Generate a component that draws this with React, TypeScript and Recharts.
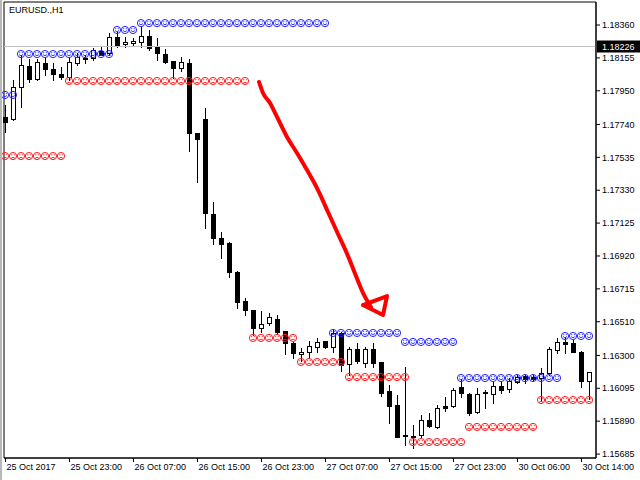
import { ComposedChart, Bar, Line, Scatter, XAxis, YAxis, ReferenceLine, ReferenceArea } from 'recharts';

const symbolTitle = 'EURUSD.,H1';

// one label every 8 hourly bars
const timeLabels = [
  '25 Oct 2017', '25 Oct 23:00', '26 Oct 07:00', '26 Oct 15:00', '26 Oct 23:00',
  '27 Oct 07:00', '27 Oct 15:00', '27 Oct 23:00', '30 Oct 06:00', '30 Oct 14:00',
];

const open = [
  1.17787, 1.17774, 1.17974, 1.18104, 1.18023, 1.18123, 1.18086, 1.18055, 1.18036, 1.18123,
  1.18154, 1.18154, 1.18198, 1.18185, 1.18285, 1.18242, 1.18248, 1.18254, 1.18291, 1.18229,
  1.18179, 1.18136, 1.18092, 1.18123, 1.17687, 1.17774, 1.17182, 1.17032, 1.17001, 1.16820,
  1.16639, 1.16583, 1.16471, 1.16502, 1.16527, 1.16452, 1.16377, 1.16309, 1.16321, 1.16352,
  1.16390, 1.16352, 1.16440, 1.16246, 1.16340, 1.16253, 1.16340, 1.16259, 1.16078, 1.15991,
  1.15804, 1.15798, 1.15804, 1.15897, 1.15854, 1.15985, 1.15985, 1.16103, 1.16059, 1.15947,
  1.16066, 1.16059, 1.16109, 1.16091, 1.16134, 1.16172, 1.16165, 1.16159, 1.16190, 1.16334,
  1.16384, 1.16377, 1.16321, 1.16140,
];
const high = [
  1.17861, 1.18017, 1.18173, 1.18148, 1.18148, 1.18160, 1.18123, 1.18098, 1.18160, 1.18185,
  1.18173, 1.18217, 1.18223, 1.18310, 1.18316, 1.18285, 1.18279, 1.18354, 1.18329, 1.18279,
  1.18210, 1.18136, 1.18160, 1.18148, 1.17687, 1.17843, 1.17257, 1.17070, 1.17007, 1.16826,
  1.16658, 1.16583, 1.16577, 1.16564, 1.16552, 1.16452, 1.16384, 1.16346, 1.16390, 1.16409,
  1.16390, 1.16465, 1.16446, 1.16352, 1.16377, 1.16352, 1.16377, 1.16259, 1.16116, 1.16053,
  1.16228, 1.15866, 1.15929, 1.15941, 1.15991, 1.16041, 1.16097, 1.16153, 1.16066, 1.16097,
  1.16084, 1.16134, 1.16134, 1.16159, 1.16178, 1.16178, 1.16178, 1.16222, 1.16352, 1.16409,
  1.16415, 1.16396, 1.16327, 1.16197,
];
const low = [
  1.17693, 1.17768, 1.17849, 1.18005, 1.18017, 1.18048, 1.18017, 1.18023, 1.18017, 1.18111,
  1.18123, 1.18142, 1.18173, 1.18173, 1.18223, 1.18223, 1.18229, 1.18223, 1.18204, 1.18142,
  1.18123, 1.18030, 1.18073, 1.17575, 1.17381, 1.17094, 1.16995, 1.16907, 1.16789, 1.16596,
  1.16552, 1.16427, 1.16446, 1.16490, 1.16440, 1.16309, 1.16284, 1.16265, 1.16290, 1.16321,
  1.16346, 1.16321, 1.16203, 1.16178, 1.16253, 1.16228, 1.16228, 1.16047, 1.15879, 1.15791,
  1.15741, 1.15723, 1.15791, 1.15854, 1.15847, 1.15953, 1.15978, 1.16041, 1.15929, 1.15941,
  1.15972, 1.16003, 1.16066, 1.16072, 1.16128, 1.16128, 1.16147, 1.16022, 1.16178, 1.16315,
  1.16315, 1.16321, 1.16103, 1.16028,
];
const close = [
  1.17755, 1.17974, 1.18111, 1.18023, 1.18129, 1.18086, 1.18055, 1.18036, 1.18129, 1.18160,
  1.18148, 1.18204, 1.18173, 1.18285, 1.18235, 1.18254, 1.18260, 1.18291, 1.18217, 1.18185,
  1.18129, 1.18092, 1.18129, 1.17687, 1.17649, 1.17188, 1.17032, 1.16995, 1.16820, 1.16633,
  1.16583, 1.16471, 1.16496, 1.16540, 1.16446, 1.16377, 1.16315, 1.16321, 1.16359, 1.16384,
  1.16352, 1.16440, 1.16240, 1.16340, 1.16265, 1.16340, 1.16253, 1.16066, 1.15985, 1.15791,
  1.15798, 1.15791, 1.15897, 1.15860, 1.15972, 1.15972, 1.16084, 1.16066, 1.15941, 1.16059,
  1.16072, 1.16109, 1.16084, 1.16140, 1.16165, 1.16153, 1.16153, 1.16190, 1.16340, 1.16384,
  1.16371, 1.16321, 1.16140, 1.16197,
];

const bidPrice = 1.18226;
const priceTicks = [
  1.18360, 1.18155, 1.17950, 1.17740, 1.17535, 1.17330, 1.17125,
  1.16920, 1.16715, 1.16510, 1.16300, 1.16095, 1.15890, 1.15685,
];
const priceDomain = [1.156604, 1.185035];
const barDomain = [-0.125, 73.875];

// smiley (resistance) and frowny (support) runs: first bar, last bar, price
const resistanceFrom = [0, 2, 14, 17, 41, 50, 57, 70];
const resistanceTo = [1, 13, 16, 40, 49, 56, 69, 73];
const resistanceLevel = [1.17924, 1.18179, 1.18329, 1.18372, 1.16440, 1.16384, 1.16159, 1.16421];
const supportFrom = [0, 8, 31, 37, 43, 51, 58, 67];
const supportTo = [7, 30, 36, 42, 50, 57, 66, 73];
const supportLevel = [1.17543, 1.18011, 1.16409, 1.16259, 1.16165, 1.15760, 1.15854, 1.16022];

// hand drawn red arrow
const arrowBar = [31.75, 32.25, 33.125, 34.0, 35.25, 36.5, 37.75, 39.125, 40.375, 41.625, 42.875, 43.875, 44.875, 45.75];
const arrowPrice = [1.18005, 1.17936, 1.17874, 1.17787, 1.17662, 1.17562, 1.17456, 1.17331, 1.17194, 1.17057, 1.16920, 1.16795, 1.16677, 1.16602];
const arrowHeadBar = [44.75, 47.75, 47.25, 44.75];
const arrowHeadPrice = [1.16614, 1.16670, 1.16552, 1.16614];

const levelAt = (from: number[], to: number[], level: number[], i: number) => {
  for (let k = 0; k < from.length; k++) {
    if (i >= from[k] && i <= to[k]) return level[k];
  }
  return null;
};

const rows = open.map((o, i) => ({
  i,
  open: o,
  high: high[i],
  low: low[i],
  close: close[i],
  range: [low[i], high[i]],
  res: levelAt(resistanceFrom, resistanceTo, resistanceLevel, i),
  sup: levelAt(supportFrom, supportTo, supportLevel, i),
}));

const arrowPts = arrowBar.map((b, k) => ({ i: b, p: arrowPrice[k] }));
const arrowHeadPts = arrowHeadBar.map((b, k) => ({ i: b, p: arrowHeadPrice[k] }));

const FONT = 'Liberation Sans, Arial, sans-serif';

const Candle = (props: any) => {
  const { x, y, width, height, payload } = props;
  if (x == null || y == null) return <g />;
  const top = Math.min(y, y + height);
  const h = Math.abs(height);
  const span = payload.high - payload.low || 1;
  const toY = (p: number) => top + ((payload.high - p) / span) * h;
  const cx = Math.round(x + width / 2) + 0.5;
  const yo = toY(payload.open);
  const yc = toY(payload.close);
  const b1 = Math.round(Math.min(yo, yc)) + 0.5;
  const b2 = Math.round(Math.max(yo, yc)) + 0.5;
  const up = payload.close >= payload.open;
  return (
    <g>
      <line x1={cx} x2={cx} y1={Math.round(top)} y2={Math.round(top + h) + 1} stroke="#000" />
      <rect x={cx - 2} y={b1} width={4} height={Math.max(b2 - b1, 0)} fill={up ? '#fff' : '#000'} stroke="#000" />
    </g>
  );
};

const Face = (props: any, color: string, smile: boolean) => {
  const { cx, cy, value } = props;
  if (value == null || cx == null || cy == null) return <g key={props.key} />;
  const mouth = smile
    ? `M${cx - 2},${cy + 0.6} Q${cx},${cy + 2.8} ${cx + 2},${cy + 0.6}`
    : `M${cx - 2},${cy + 2.2} Q${cx},${cy + 0.2} ${cx + 2},${cy + 2.2}`;
  return (
    <g key={props.key}>
      <circle cx={cx} cy={cy} r={3.6} fill="none" stroke={color} strokeWidth={1} />
      <rect x={cx - 1.8} y={cy - 1.8} width={1} height={1} fill={color} />
      <rect x={cx + 0.8} y={cy - 1.8} width={1} height={1} fill={color} />
      <path d={mouth} fill="none" stroke={color} strokeWidth={0.9} />
    </g>
  );
};

const TimeTick = (props: any) => {
  const { x, y, payload } = props;
  const idx = payload.value;
  if (idx % 8 !== 0) return <g />;
  const lx = Math.round(x) + 0.5;
  return (
    <g>
      <line x1={lx} x2={lx} y1={y} y2={y + 4} stroke="#000" />
      <text x={lx + 1} y={y + 12} fontSize={9} fontFamily={FONT} fill="#000">
        {timeLabels[idx / 8]}
      </text>
    </g>
  );
};

const BidLabel = (props: any) => {
  const { viewBox } = props;
  if (!viewBox) return null;
  const rx = viewBox.x + viewBox.width + 1;
  const cy = viewBox.y;
  return (
    <g>
      <rect x={rx} y={cy - 6} width={44} height={12} fill="#000" />
      <text x={rx + 5} y={cy + 3.5} fontSize={9} fontFamily={FONT} fill="#fff">
        {bidPrice.toFixed(5)}
      </text>
    </g>
  );
};

export default function App() {
  return (
    <div style={{ position: 'absolute', left: 0, top: 0, width: 640, height: 480, background: '#fff' }}>
      <ComposedChart width={640} height={480} data={rows} margin={{ top: 2, right: 0, bottom: 0, left: 4 }}>
        <XAxis
          dataKey="i"
          type="category"
          interval={0}
          padding={{ left: -3, right: 3 }}
          height={22}
          tickSize={0}
          tickMargin={0}
          tickLine={false}
          axisLine={{ stroke: '#000' }}
          tick={<TimeTick />}
        />
        <XAxis xAxisId="n" dataKey="i" type="number" domain={barDomain} allowDataOverflow hide />
        <YAxis
          orientation="right"
          type="number"
          domain={priceDomain}
          allowDataOverflow
          ticks={priceTicks}
          interval={0}
          width={44}
          tickSize={4}
          tickMargin={2}
          tickLine={{ stroke: '#000' }}
          axisLine={{ stroke: '#000' }}
          tick={{ fontSize: 9, fill: '#000', fontFamily: FONT }}
          tickFormatter={(v: number) => v.toFixed(5)}
        />
        <ReferenceArea
          xAxisId="n"
          x1={barDomain[0]}
          x2={barDomain[1]}
          y1={priceDomain[0]}
          y2={priceDomain[1]}
          fill="none"
          stroke="#000"
          ifOverflow="visible"
        />
        <ReferenceLine y={bidPrice} stroke="#c0c0c0" label={<BidLabel />} />
        <Bar dataKey="range" shape={<Candle />} isAnimationActive={false} />
        <Line
          dataKey="res"
          stroke="none"
          connectNulls={false}
          dot={(p: any) => Face(p, '#2222ff', true)}
          activeDot={false}
          isAnimationActive={false}
        />
        <Line
          dataKey="sup"
          stroke="none"
          connectNulls={false}
          dot={(p: any) => Face(p, '#ff1a1a', false)}
          activeDot={false}
          isAnimationActive={false}
        />
        <Scatter
          xAxisId="n"
          data={arrowPts}
          dataKey="p"
          fill="#ff0000"
          line={{ stroke: '#ff0000', strokeWidth: 4, strokeLinecap: 'round', strokeLinejoin: 'round' }}
          lineJointType="monotoneX"
          shape={() => <g />}
          isAnimationActive={false}
        />
        <Scatter
          xAxisId="n"
          data={arrowHeadPts}
          dataKey="p"
          fill="#ff0000"
          line={{ stroke: '#ff0000', strokeWidth: 4, strokeLinecap: 'round', strokeLinejoin: 'round' }}
          lineJointType="linear"
          shape={() => <g />}
          isAnimationActive={false}
        />
      </ComposedChart>
      <div
        style={{
          position: 'absolute',
          left: 9,
          top: 5,
          fontFamily: FONT,
          fontSize: 9,
          lineHeight: '11px',
          color: '#000',
        }}
      >
        {symbolTitle}
      </div>
      <div
        style={{
          position: 'absolute',
          left: 0,
          top: 0,
          width: 640,
          height: 480,
          boxSizing: 'border-box',
          borderLeft: '2px solid #b8b8b8',
          pointerEvents: 'none',
        }}
      />
    </div>
  );
}
